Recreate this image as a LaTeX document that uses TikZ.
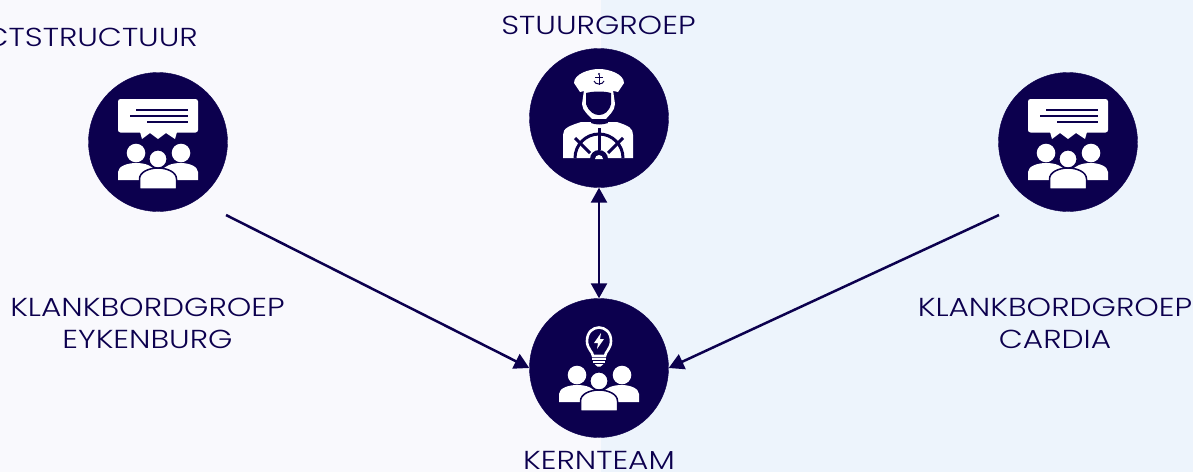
\documentclass[tikz,border=0pt]{standalone}
\usepackage{fontspec}
\setmainfont[FakeStretch=1.2]{Poppins Light}
\usetikzlibrary{arrows.meta}

\definecolor{navy}{HTML}{0C004E}
\definecolor{bgleft}{HTML}{F9F9FD}
\definecolor{bgright}{HTML}{EDF4FC}

\tikzset{
	disc/.style={circle, fill=navy, draw=navy, minimum size=139pt, inner sep=0pt},
	caption/.style={text=navy, font=\fontsize{26}{32}\selectfont, align=center, anchor=base, inner sep=0pt},
	link/.style={navy, line width=2.5pt},
	tip/.style={-{Triangle[length=15pt,width=16pt]}},
	tips/.style={{Triangle[length=15pt,width=16pt]}-{Triangle[length=15pt,width=16pt]}},
	% three people, origin at the middle head
	crowd/.pic={
		\fill[white] (-22,-6) circle [radius=9.3];
		\fill[white] (23,-6) circle [radius=9.3];
		\fill[white] (-40,21) -- (-40,13) .. controls (-40,7) and (-30,4) .. (-22,4) .. controls (-12,4) and (-6,7) .. (-2,12) -- (-10,21) -- cycle;
		\fill[white] (40,21) -- (40,13) .. controls (40,7) and (30,4) .. (23,4) .. controls (13,4) and (7,7) .. (3,12) -- (11,21) -- cycle;
		\filldraw[white, draw=navy, line width=1.5pt] (0,0) circle [radius=9.2];
		\filldraw[white, draw=navy, line width=1.5pt] (-18.5,30) -- (-18.5,20) .. controls (-18.5,13) and (-9,9) .. (0,9) .. controls (9,9) and (18.5,13) .. (18.5,20) -- (18.5,30) -- cycle;
	},
	% speech bubble, origin at the disc centre
	bubble/.pic={
		\fill[white, rounded corners=2.5pt] (-40,-43) rectangle (40,-9.5);
		\fill[white] (-18,-10) -- (-16,-3) -- (-8,-9) -- (0,-3) -- (8,-9) -- (17,-3) -- (19,-10) -- cycle;
		\draw[navy, line width=1.2pt] (-22,-32) -- (30,-32);
		\draw[navy, line width=1.2pt] (-28,-26) -- (30,-26);
		\draw[navy, line width=1.2pt] (-11,-20) -- (30,-20);
	},
	% light bulb, origin at the disc centre
	bulb/.pic={
		\draw[white, line width=2.6pt] (-6,-12) -- (6,-12) .. controls (6,-16) and (12,-19) .. (12,-27) .. controls (12,-45) and (-12,-45) .. (-12,-27) .. controls (-12,-19) and (-6,-16) .. (-6,-12) -- cycle;
		\fill[white] (2,-35) -- (-5,-25) -- (-1,-25) -- (-2,-19) -- (5,-29) -- (1,-29) -- cycle;
		\fill[white] (-7,-10) rectangle (7,-7.8);
		\fill[white] (-6,-7) rectangle (6,-4.8);
		\fill[white] (-4.5,-4) -- (4.5,-4) -- (1.5,-1.4) -- (-1.5,-1.4) -- cycle;
	},
	% captain at the wheel, origin at the disc centre
	captain/.pic={
		% coat
		\fill[white] (-36,40) -- (-36,17) .. controls (-36,10) and (-30,8) .. (-18,4) -- (18,4) .. controls (30,8) and (34,10) .. (34,17) -- (34,40) -- cycle;
		\fill[white] (-15,-28) -- (-17,-14) .. controls (-17,-7) and (-9,-2) .. (-6,2) -- (6,2) .. controls (9,-2) and (16,-7) .. (16,-14) -- (14,-28) -- cycle;
		\fill[navy] (-13,-25) .. controls (-5,-27) and (5,-27) .. (12,-25) -- (12,-14) .. controls (10,-6) and (5,-3) .. (0,-3) .. controls (-5,-3) and (-10,-6) .. (-13,-14) -- cycle;
		\fill[navy] (-7,1) -- (8,1) -- (9,5) .. controls (3,7) and (-3,7) .. (-8,5) -- cycle;
		% cap
		\fill[white] (-19,-26) -- (-25,-35) .. controls (-25,-44) and (-10,-49) .. (0,-49) .. controls (10,-49) and (25,-44) .. (25,-35) -- (19,-26) .. controls (8,-29) and (-8,-29) .. (-19,-26) -- cycle;
		\draw[navy, line width=1pt] (0,-43) -- (0,-33);
		\draw[navy, line width=1pt] (-4,-41) -- (4,-41);
		\draw[navy, line width=1pt] (-5,-37) .. controls (-4,-33) and (4,-33) .. (5,-37);
		\fill[navy] (0,-44) circle [radius=1.2];
		% wheel
		\draw[navy, line width=3pt] (-24,40) arc [start angle=180, end angle=360, radius=24];
		\draw[navy, line width=3pt] (0,10) -- (0,32);
		\draw[navy, line width=3pt] (-24,20) -- (-9,35);
		\draw[navy, line width=3pt] (24,20) -- (9,35);
		\fill[navy] (-9,41) arc [start angle=180, end angle=360, radius=9] -- cycle;
		\fill[white] (-4,41) arc [start angle=180, end angle=360, radius=4] -- cycle;
	},
}

\begin{document}
\begin{tikzpicture}[x=1pt,y=-1pt]
	\useasboundingbox (0,0) rectangle (1193,472);
	% background
	\fill[bgleft] (0,0) rectangle (601,472);
	\fill[bgright] (601,0) rectangle (1193,472);

	% discs
	\node[disc] (klankleft) at (158,142) {};
	\node[disc] (stuur) at (599,118) {};
	\node[disc] (klankright) at (1068,142) {};
	\node[disc] (kern) at (599,368) {};

	% icons
	\pic at (klankleft) {bubble};
	\pic at ([yshift=-17pt]klankleft) {crowd};
	\pic at (klankright) {bubble};
	\pic at ([yshift=-17pt]klankright) {crowd};
	\pic at (stuur) {captain};
	\pic at (kern) {bulb};
	\pic at ([yshift=-13pt]kern) {crowd};

	% labels
	\node[caption, anchor=base east] (structuur) at (198,46) {CTSTRUCTUUR};
	\node[caption] (stuurlabel) at (598.5,34) {STUURGROEP};
	\node[caption] (eyken) at (147.5,348) {KLANKBORDGROEP\\EYKENBURG};
	\node[caption] (cardia) at (1055,348) {KLANKBORDGROEP\\CARDIA};
	\node[caption] (kernlabel) at (599,469) {KERNTEAM};

	% connectors
	\coordinate (startleft) at (226,215);
	\coordinate (startright) at (999,215);
	\draw[link, tip] (startleft) -- (kern.west);
	\draw[link, tip] (startright) -- (kern.east);
	\draw[link, tips] (stuur.south) -- (kern.north);
\end{tikzpicture}
\end{document}
